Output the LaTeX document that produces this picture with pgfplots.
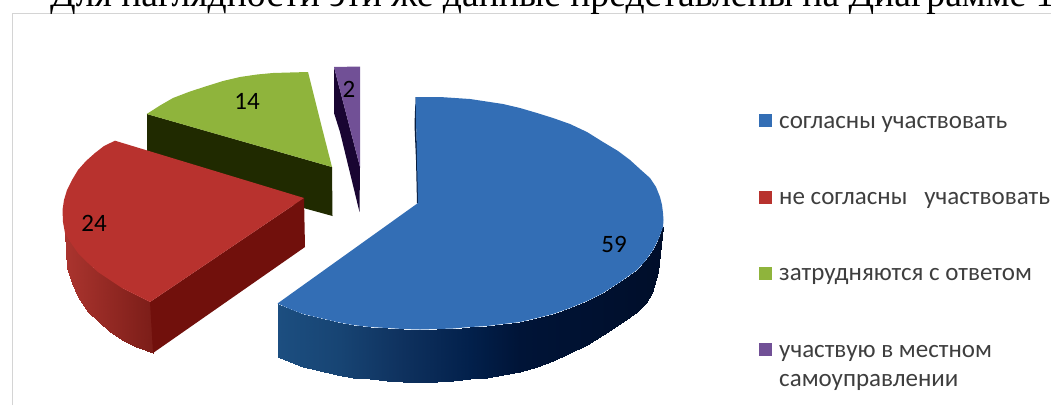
\documentclass[border=0pt]{standalone}
\usepackage{fontspec}
\setmainfont{Carlito}
\newfontfamily\titlefont{Liberation Serif}
\usepackage{pgfplots}
\pgfplotsset{compat=1.18}

\definecolor{blueTop}{RGB}{51,110,181}
\definecolor{blueIn}{RGB}{8,28,60}
\definecolor{redTop}{RGB}{184,50,46}
\definecolor{redFace}{RGB}{113,16,12}
\definecolor{greenTop}{RGB}{143,180,60}
\definecolor{greenFace}{RGB}{32,42,0}
\definecolor{purpleTop}{RGB}{113,80,150}
\definecolor{purpleFace}{RGB}{25,5,50}
\definecolor{frameGray}{RGB}{212,212,212}
\definecolor{legendText}{RGB}{62,62,62}

\pgfplotsset{
  colormap={blueSide}{rgb255(0pt)=(28,78,128) rgb255(278pt)=(28,78,128) rgb255(340pt)=(23,68,115)
    rgb255(400pt)=(15,50,95) rgb255(470pt)=(2,32,75) rgb255(520pt)=(0,20,55)
    rgb255(663pt)=(0,14,42) rgb255(1051pt)=(0,14,42)},
  colormap={redSide}{rgb255(0pt)=(170,52,46) rgb255(66pt)=(170,52,46)
    rgb255(150pt)=(125,30,25) rgb255(1051pt)=(125,30,25)},
}

\begin{document}
\begin{tikzpicture}
\path[use as bounding box, clip] (0,0) rectangle (1051pt,405pt);

\begin{axis}[
  at={(0pt,0pt)}, anchor=south west,
  scale only axis,
  width=1051pt, height=405pt,
  xmin=0, xmax=1051,
  ymin=0, ymax=405,
  y dir=reverse,
  axis lines=none,
  point meta min=0, point meta max=1051,
  reverse legend,
  legend cell align=left,
  legend image code/.code={\fill[#1] (0pt,-4.5pt) rectangle (13pt,8.5pt);},
  legend style={
    at={(axis cs:759,114)}, anchor=north west,
    draw=none, fill=none,
    font=\fontsize{25}{29}\selectfont\color{legendText},
    row sep=61pt,
    inner sep=0pt,
    nodes={inner sep=0pt},
    /tikz/every odd column/.append style={column sep=7pt},
  },
]

% frame of the chart area
\addplot[frameGray, line width=1pt, forget plot] coordinates {(12.8,405) (12.8,13.5) (1051,13.5)};

% purple slice
\addplot[fill=purpleFace, draw=none, forget plot] coordinates {
  (334,67) (360,167) (359.5,212) (340,132) (334,113)
} -- cycle;
\addplot[fill=purpleTop, draw=none] coordinates {
  (334,67) (360,66.5) (360,167)
} -- cycle;
\addlegendentry{\rule{0pt}{12.5pt}\smash{\parbox[t]{270pt}{участвую в местном\\самоуправлении}}}

% green slice
\addplot[fill=greenFace, draw=none, forget plot] coordinates {
  (147,114) (332,167) (332.5,216) (147,165)
} -- cycle;
\addplot[fill=greenTop, draw=none] coordinates {
  (146.7,114) (160,105.5) (173,98) (190,91.5) (207,86) (223,81) (240,77)
  (257,74.5) (273,73) (290,72.5) (308,72) (320,120) (332,167)
} -- cycle;
\addlegendentry{затрудняются с ответом}

% red slice
\addplot[patch, patch type=rectangle, shader=interp, colormap name=redSide, point meta=x, forget plot] coordinates {
  (65,233) (72,243) (72,283) (67,268)
  (72,243) (78,253) (78,297) (72,283)
  (78,253) (88,263) (88,312) (78,297)
  (88,263) (98,272) (98,321) (88,312)
  (98,272) (110,280) (110,332) (98,321)
  (110,280) (122,288) (122,340) (110,332)
  (122,288) (136,295) (136,347) (122,340)
  (136,295) (150,302) (153,353) (136,347)
};
\addplot[fill=redFace, draw=none, forget plot] coordinates {
  (150,302) (304,198) (305,247) (153,353)
} -- cycle;
\addplot[fill=redTop, draw=none] coordinates {
  (115,140.7) (104,146) (95,153) (86,161) (78,170) (72,180) (67,190) (64,200) (62.5,210)
  (63,222) (65,233) (71,243) (78,253) (88,263) (98,272) (110,280) (122,288) (136,295)
  (150,302) (304,198)
} -- cycle;
\addlegendentry{не согласны\ \ \ участвовать}

% blue slice
\addplot[fill=blueIn, draw=none, forget plot] coordinates {
  (415.5,97) (414.5,125) (416,160) (417,203.5) (420,203) (417,150)
} -- cycle;
\addplot[patch, patch type=rectangle, shader=interp, colormap name=blueSide, point meta=x, forget plot] coordinates {
  (278,303.5) (290,309) (290,362) (278,357)
  (290,309) (303,314) (303,367) (290,362)
  (303,314) (320,318) (320,371) (303,367)
  (320,318) (337,322) (337,375) (320,371)
  (337,322) (353,325) (353,377.5) (337,375)
  (353,325) (370,327) (370,379) (353,377.5)
  (370,327) (387,328) (387,381) (370,379)
  (387,328) (403,329) (403,382) (387,381)
  (403,329) (420,329.5) (420,382.5) (403,382)
  (420,329.5) (437,329) (437,382) (420,382.5)
  (437,329) (453,328.5) (453,381) (437,382)
  (453,328.5) (470,327) (470,379) (453,381)
  (470,327) (487,326) (487,377.5) (470,379)
  (487,326) (503,324) (503,375) (487,377.5)
  (503,324) (520,322) (520,371.5) (503,375)
  (520,322) (537,318) (537,367) (520,371.5)
  (537,318) (553,314) (553,360.5) (537,367)
  (553,314) (570,308) (570,353) (553,360.5)
  (570,308) (587,301) (587,344.5) (570,353)
  (587,301) (603,293) (603,335) (587,344.5)
  (603,293) (620,282) (620,324) (603,335)
  (620,282) (637,270) (637,312) (620,324)
  (637,270) (646,260) (646,303) (637,312)
  (646,260) (653,250) (652,293) (646,303)
  (653,250) (658,240) (658,272) (652,293)
  (658,240) (663,227) (662,228) (658,272)
};
\addplot[fill=blueTop, draw=none] coordinates {
  (415.5,97) (440,97) (470,99) (503,104) (520,108) (537,113) (553,118) (570,124) (587,132)
  (603,142) (618,151) (630,160) (641,170) (650,178) (656,187) (660,197) (662,205) (663,213) (663.5,220)
  (663,227) (659,238) (653,250) (646,260) (637,270) (620,282) (603,293) (587,301)
  (570,308) (553,314) (537,318) (520,322) (503,324) (487,326) (470,327) (453,328.5)
  (437,329) (420,329.5) (403,329) (387,328) (370,327) (353,325) (337,322) (320,318)
  (303,314) (290,309) (277.5,303.5) (418,203)
} -- cycle;
\addlegendentry{согласны участвовать}

% values on the slices
\node[font=\fontsize{25}{25}\selectfont] at (axis cs:614,244) {59};
\node[font=\fontsize{25}{25}\selectfont] at (axis cs:94,223) {24};
\node[font=\fontsize{25}{25}\selectfont] at (axis cs:247,101) {14};
\node[font=\fontsize{25}{25}\selectfont] at (axis cs:349,89) {2};

% line of the page text above the chart, cut off at the top
\node[anchor=base west, inner sep=0pt, font=\titlefont\fontsize{37.6}{37.6}\selectfont, text=black]
  at (axis cs:50,6) {Для наглядности эти же данные представлены на Диаграмме 1};

\end{axis}
\end{tikzpicture}
\end{document}
